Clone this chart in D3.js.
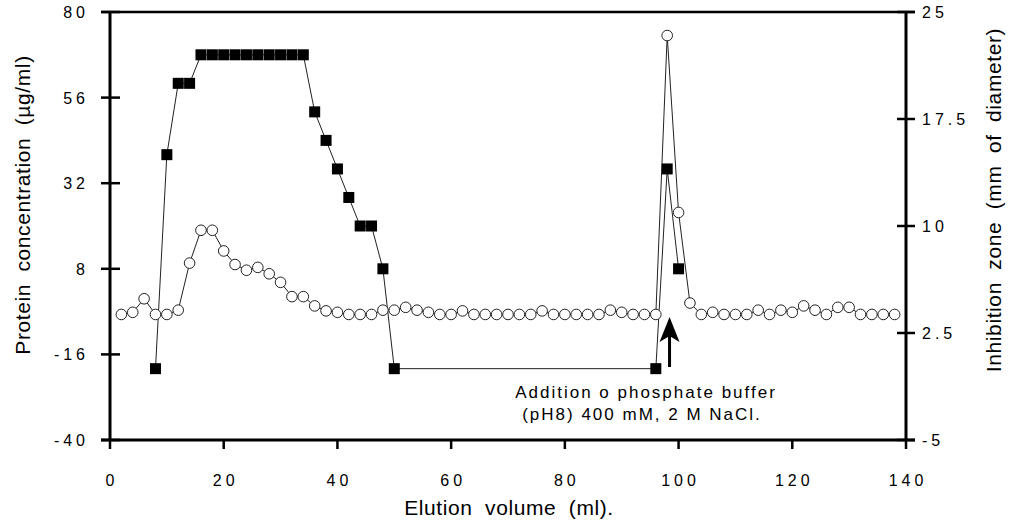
<!DOCTYPE html>
<html>
<head>
<meta charset="utf-8">
<script src="https://cdn.jsdelivr.net/npm/d3@7"></script>
<style>
  html, body { margin: 0; padding: 0; background: #fff; }
  svg { display: block; }
  text { font-family: "Liberation Sans", Arial, Helvetica, sans-serif; fill: #000; }
</style>
</head>
<body>
<svg id="chart" width="1016" height="520"></svg>
<script>
// ---- data ----
const proteinVolume = [8,10,12,14,16,18,20,22,24,26,28,30,32,34,36,38,40,42,44,46,48,50,96,98,100];
const proteinConc   = [-20,40,60,60,68,68,68,68,68,68,68,68,68,68,52,44,36,28,20,20,8,-20,-20,36,8];

const zoneVolume = [2,4,6,8,10,12,14,16,18,20,22,24,26,28,30,32,34,36,38,40,42,44,46,48,50,52,54,56,58,60,62,64,66,68,70,72,74,76,78,80,82,84,86,88,90,92,94,96,98,100,102,104,106,108,110,112,114,116,118,120,122,124,126,128,130,132,134,136,138];
const zoneDiam   = [3.8,3.95,4.9,3.8,3.8,4.1,7.4,9.7,9.7,8.25,7.3,6.9,7.1,6.65,6.05,5.05,5.05,4.4,4.05,3.95,3.8,3.8,3.8,4.1,4.1,4.3,4.1,3.95,3.8,3.8,4.05,3.8,3.8,3.8,3.8,3.8,3.8,4.05,3.8,3.8,3.8,3.8,3.8,4.1,3.95,3.8,3.8,3.8,23.35,10.95,4.6,3.8,3.95,3.8,3.8,3.8,4.1,3.8,4.1,3.95,4.4,4.1,3.8,4.3,4.3,3.8,3.8,3.8,3.8];

const xTicks = [0,20,40,60,80,100,120,140];
const leftTicks = [80,56,32,8,-16,-40];
const rightTicks = [25,17.5,10,2.5,-5];
const leftTickLabels = ["80","56","32","8","-16","-40"];
const rightTickLabels = ["25","17.5","10","2.5","-5"];

const xTitle = "Elution volume (ml).";
const leftTitle = "Protein concentration (\u00b5g/ml)";
const rightTitle = "Inhibition zone (mm of diameter)";
const noteLines = ["Addition o phosphate buffer", "(pH8) 400 mM, 2 M NaCl."];
const noteVolume = 98.5;

// ---- layout ----
const L = 110, R = 906, T = 12, B = 440;
const svg = d3.select("#chart");

const x = d3.scaleLinear().domain([0,140]).range([L,R]);
const yL = d3.scaleLinear().domain([-40,80]).range([B,T]);
const yR = d3.scaleLinear().domain([-5,25]).range([B,T]);

// frame lines
const axisG = svg.append("g").attr("stroke","#000");
axisG.append("line").attr("x1",L).attr("x2",L).attr("y1",T-1).attr("y2",B+1).attr("stroke-width",3);
axisG.append("line").attr("x1",R).attr("x2",R).attr("y1",T-1).attr("y2",B+1).attr("stroke-width",3);
axisG.append("line").attr("x1",L-9).attr("x2",R+9).attr("y1",B).attr("y2",B).attr("stroke-width",3);
axisG.append("line").attr("x1",L-9).attr("x2",R+9).attr("y1",T).attr("y2",T).attr("stroke-width",2.5);

const labG = svg.append("g").attr("font-size",16).attr("letter-spacing","4px");

// left ticks
leftTicks.forEach((v,i) => {
  axisG.append("line").attr("x1",L-9).attr("x2",L+10).attr("y1",yL(v)).attr("y2",yL(v)).attr("stroke-width",2.5);
  labG.append("text").attr("x",89).attr("y",yL(v)+6).attr("text-anchor","end").text(leftTickLabels[i]);
});
// right ticks
rightTicks.forEach((v,i) => {
  axisG.append("line").attr("x1",R-9).attr("x2",R+9).attr("y1",yR(v)).attr("y2",yR(v)).attr("stroke-width",2.5);
  labG.append("text").attr("x",922).attr("y",yR(v)+6).attr("text-anchor","start").text(rightTickLabels[i]);
});
// x ticks
xTicks.forEach(v => {
  axisG.append("line").attr("x1",x(v)).attr("x2",x(v)).attr("y1",B).attr("y2",B+9).attr("stroke-width",2.5);
  labG.append("text").attr("x",x(v)+2).attr("y",486).attr("text-anchor","middle").text(String(v));
});

// titles
const titleG = svg.append("g").attr("font-size",21).attr("letter-spacing","0.6px").attr("word-spacing","6px");
titleG.append("text").attr("x",509).attr("y",515).attr("text-anchor","middle").text(xTitle);
titleG.append("text").attr("transform","translate(30,205) rotate(-90)").attr("text-anchor","middle").text(leftTitle);
titleG.append("text").attr("transform","translate(1001,200) rotate(-90)").attr("text-anchor","middle").text(rightTitle);

// ---- series ----
const zoneData = zoneVolume.map((v,i) => [v, zoneDiam[i]]);
const protData = proteinVolume.map((v,i) => [v, proteinConc[i]]);

svg.append("path").datum(zoneData)
  .attr("d", d3.line().x(d => x(d[0])).y(d => yR(d[1])))
  .attr("fill","none").attr("stroke","#222").attr("stroke-width",1);

svg.append("path").datum(protData)
  .attr("d", d3.line().x(d => x(d[0])).y(d => yL(d[1])))
  .attr("fill","none").attr("stroke","#222").attr("stroke-width",1);

svg.append("g").selectAll("circle").data(zoneData).join("circle")
  .attr("cx", d => x(d[0])).attr("cy", d => yR(d[1])).attr("r", 5.3)
  .attr("fill","#fff").attr("stroke","#222").attr("stroke-width",1);

svg.append("g").selectAll("rect").data(protData).join("rect")
  .attr("x", d => x(d[0]) - 5.5).attr("y", d => yL(d[1]) - 5.5)
  .attr("width", 11).attr("height", 11).attr("fill","#000");

// ---- annotation ----
const ax = x(noteVolume) - 0.5;
svg.append("line").attr("x1",ax).attr("x2",ax).attr("y1",332).attr("y2",367)
  .attr("stroke","#000").attr("stroke-width",3);
svg.append("path")
  .attr("d", `M${ax},317 L${ax+10},342 L${ax},336 L${ax-10},342 Z`)
  .attr("fill","#000");
const noteG = svg.append("g").attr("font-size",17).attr("letter-spacing","2px").attr("text-anchor","middle");
noteG.append("text").attr("x",646).attr("y",398).text(noteLines[0]);
noteG.append("text").attr("x",642).attr("y",420).text(noteLines[1]);
</script>
</body>
</html>
